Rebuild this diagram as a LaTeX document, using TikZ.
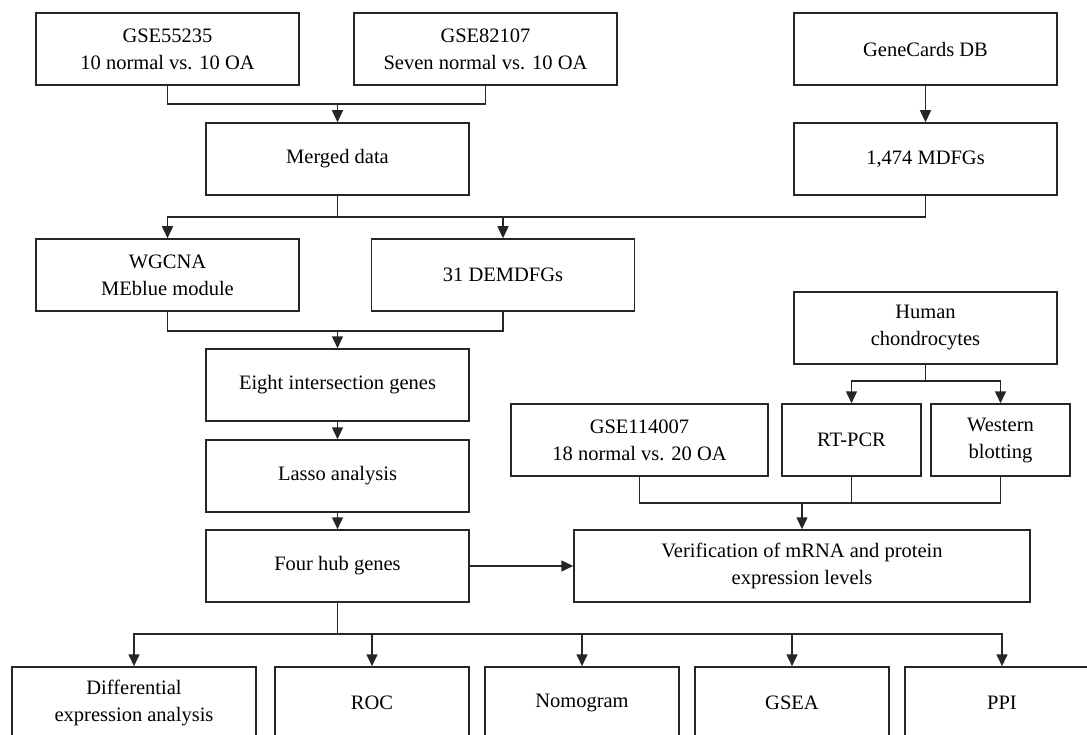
\documentclass[tikz,border=0pt]{standalone}
\usepackage{fontspec}
\setmainfont{Liberation Serif}
\usetikzlibrary{arrows.meta}
\begin{document}
\begin{tikzpicture}[x=1pt,y=-1pt,line width=1.5pt,draw=black!85,
	box/.style={draw,minimum width=263pt,minimum height=72pt,align=center,inner sep=2pt,
		font=\fontsize{20.5}{27}\selectfont},
	arr/.style={-{Triangle[length=12pt,width=11pt]}}]
\useasboundingbox (0,0) rectangle (1087,735);
\node[box] (gseA) at (167.5,49) {GSE55235\\10 normal vs. 10 OA};
\node[box] (gseB) at (485.5,49) {GSE82107\\Seven normal vs. 10 OA};
\node[box] (gene) at (925.5,49) {GeneCards DB};
\node[box] (merged) at (337.5,159) {Merged data};
\node[box] (mdfg) at (925.5,159) {1,474 MDFGs};
\node[box] (wgcna) at (167.5,275) {WGCNA\\MEblue module};
\node[box] (demdfg) at (503,275) {31 DEMDFGs};
\node[box] (chondro) at (925.5,328) {Human\\chondrocytes};
\node[box] (eight) at (337.5,385) {Eight intersection genes};
\node[box,minimum width=257pt] (gseC) at (639.5,440) {GSE114007\\18 normal vs. 20 OA};
\node[box,minimum width=139pt] (rtpcr) at (851.5,440) {RT-PCR};
\node[box,minimum width=139pt] (western) at (1000.5,440) {Western\\blotting};
\node[box] (lasso) at (337.5,476) {Lasso analysis};
\node[box] (hub) at (337.5,566) {Four hub genes};
\node[box,minimum width=456pt] (verif) at (802,566) {Verification of mRNA and protein\\expression levels};
\node[box,minimum width=244pt] (diff) at (134,703) {Differential\\expression analysis};
\foreach \nm/\x/\txt in {roc/372/ROC,nom/582/Nomogram,gsea/792/GSEA,ppi/1002/PPI}{
	\node[box,minimum width=194pt] (\nm) at (\x,703) {\txt};}
% joints
\coordinate (j1) at (337.5,104);
\coordinate (j2) at (337.5,217);
\coordinate (j3) at (337.5,331);
\coordinate (j4) at (925.5,381);
\coordinate (j5) at (802,503);
\coordinate (j6) at (337.5,634);
\draw (gseA.south) |- (j1) -| (gseB.south);
\draw[arr] (j1) -- (merged.north);
\draw[arr] (gene.south) -- (mdfg.north);
\draw (merged.south) -- (j2);
\draw (mdfg.south) |- (j2);
\draw[arr] (j2) -| (wgcna.north);
\draw[arr] (j2) -| (demdfg.north);
\draw (wgcna.south) |- (j3) -| (demdfg.south);
\draw[arr] (j3) -- (eight.north);
\draw[arr] (eight.south) -- (lasso.north);
\draw[arr] (lasso.south) -- (hub.north);
\draw[arr] (hub.east) -- (verif.west);
\draw (chondro.south) -- (j4);
\draw[arr] (j4) -| (rtpcr.north);
\draw[arr] (j4) -| (western.north);
\draw (gseC.south) |- (j5) -| (western.south);
\draw (rtpcr.south) -- (rtpcr.south |- j5);
\draw[arr] (j5) -- (verif.north);
\draw (hub.south) -- (j6);
\foreach \nm in {diff,roc,nom,gsea,ppi}{
	\draw[arr] (j6) -| (\nm.north);}
\end{tikzpicture}
\end{document}
